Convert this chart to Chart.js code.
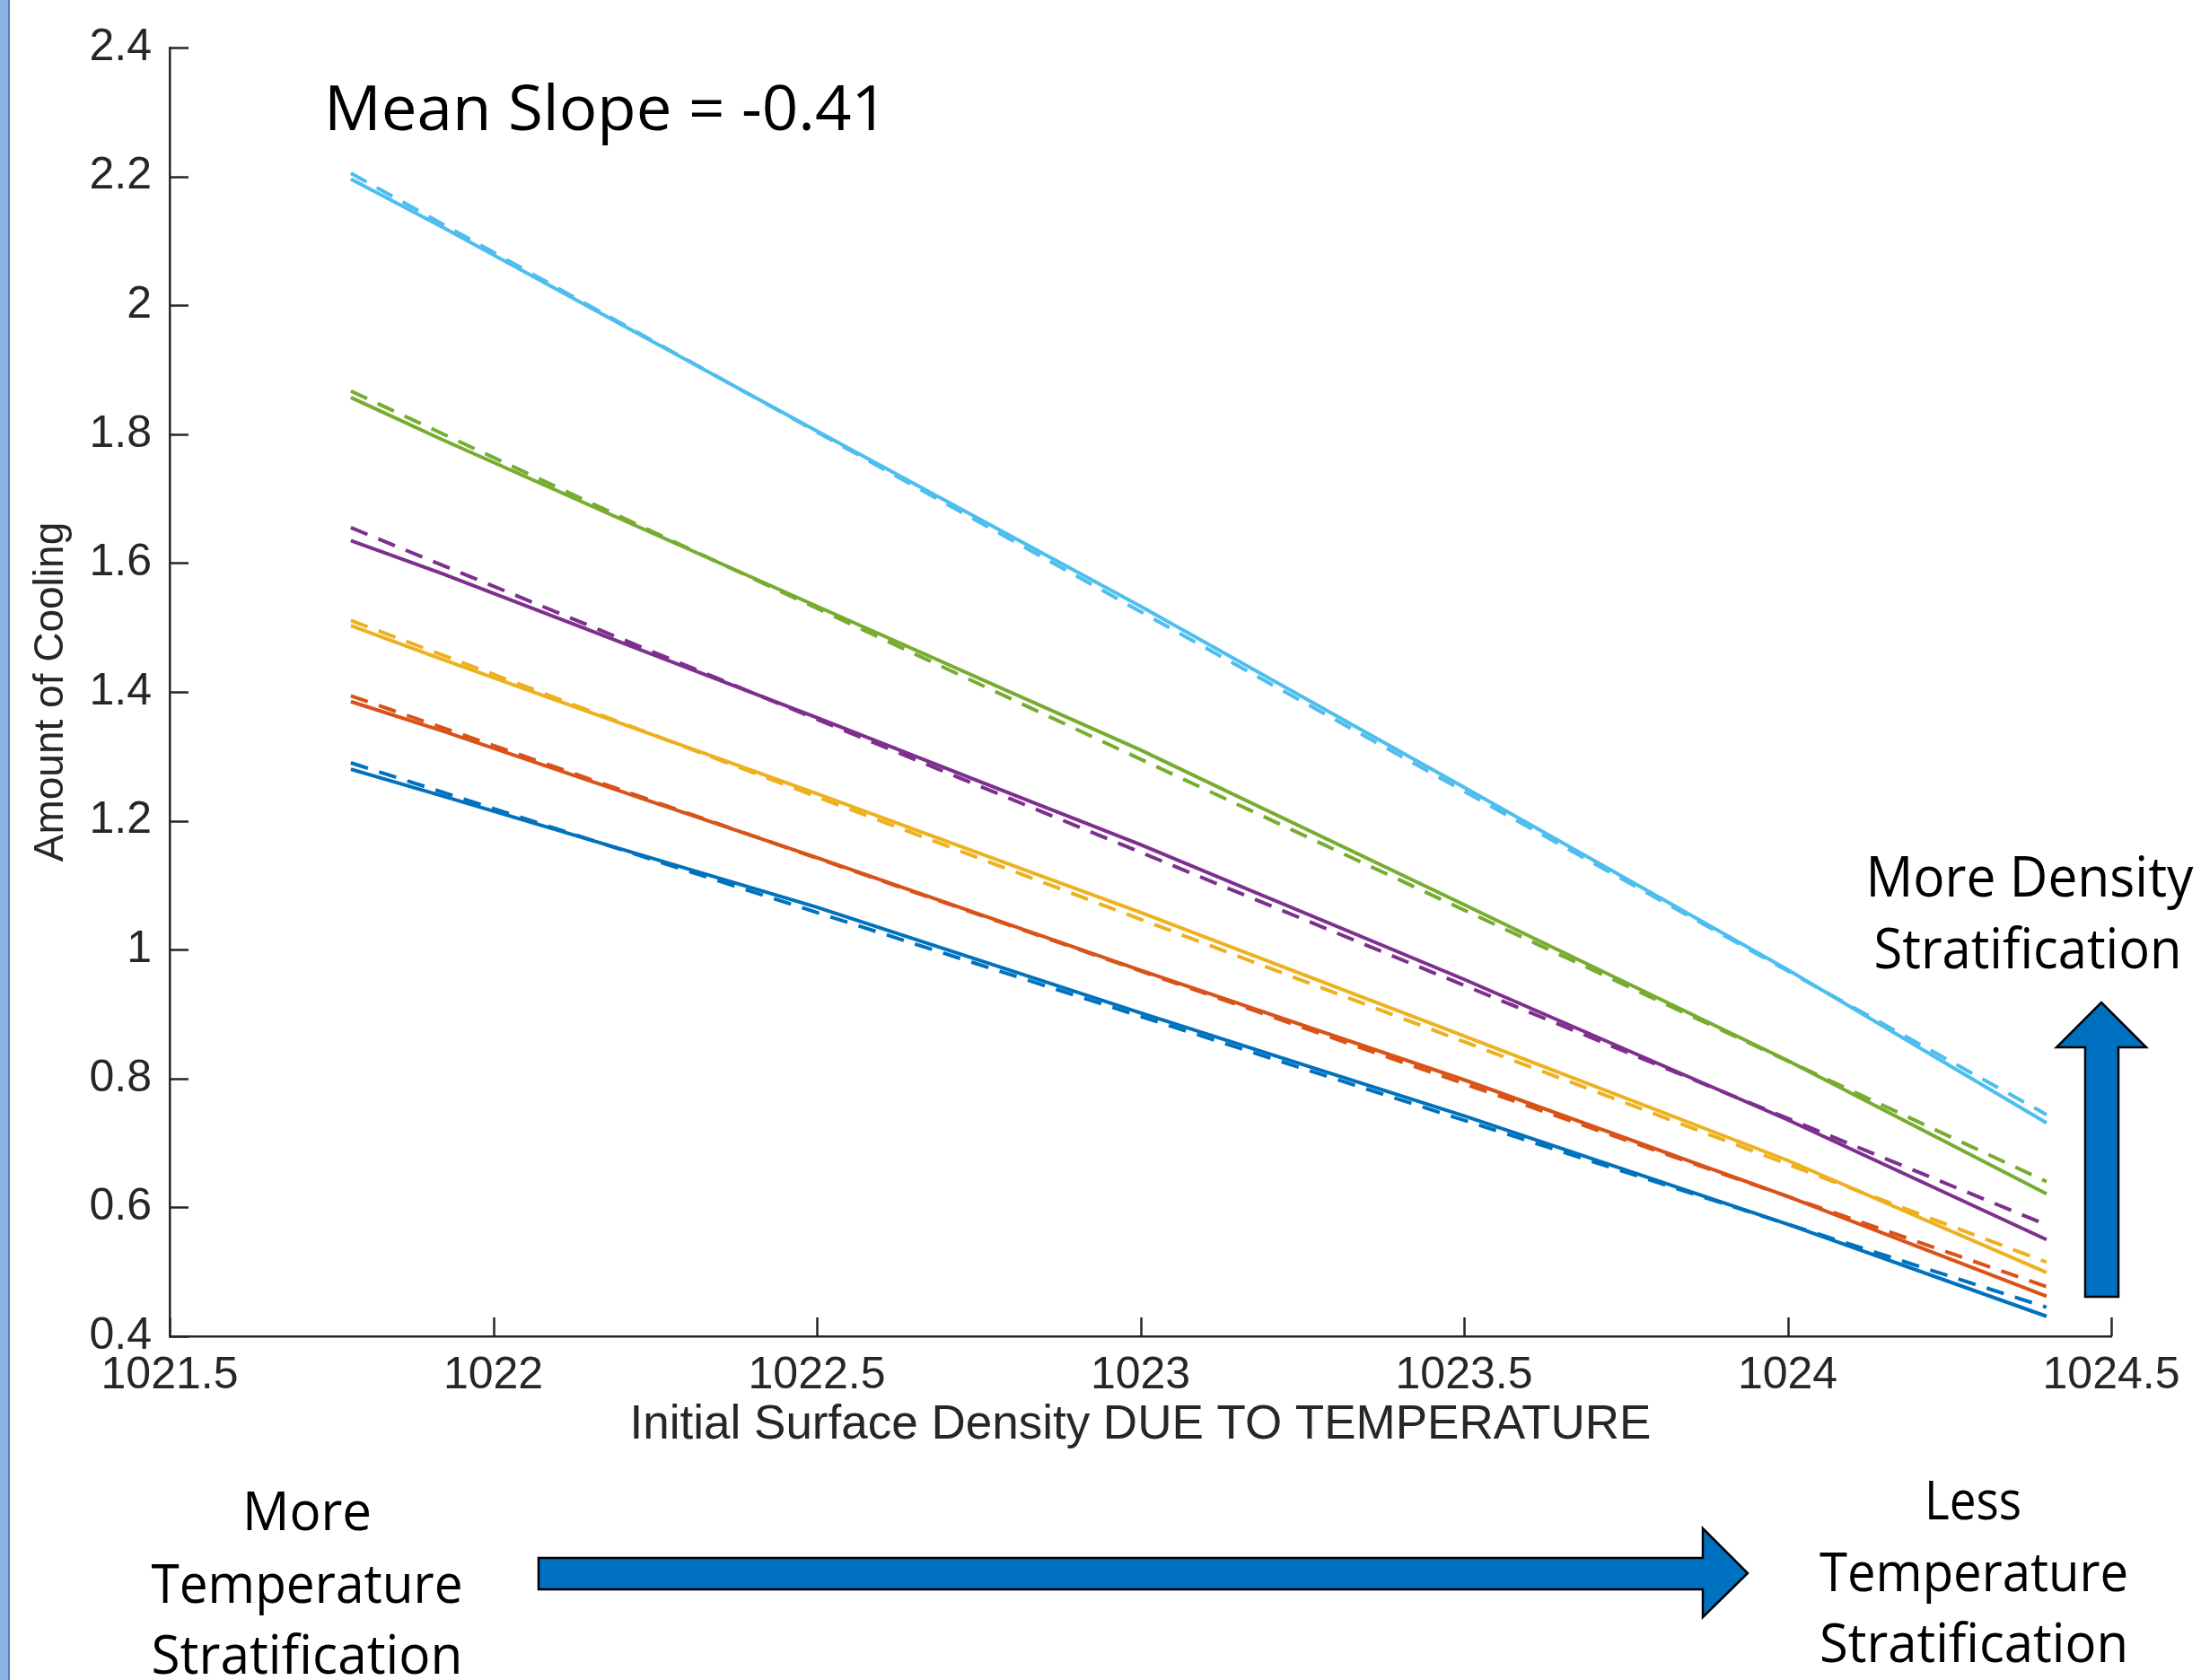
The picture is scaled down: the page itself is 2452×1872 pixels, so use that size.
<!DOCTYPE html>
<html>
<head>
<meta charset="utf-8">
<script src="https://cdn.jsdelivr.net/npm/chart.js@4.4.0/dist/chart.umd.min.js"></script>
<style>
html,body{margin:0;padding:0;background:#fff;overflow:hidden}
#wrap{position:absolute;left:0;top:0;width:2452px;height:1872px}
</style>
</head>
<body>
<div id="wrap"><canvas id="c" width="2452" height="1872"></canvas></div>
<script>
// ---- data ----
const densityPoints = [1021.78, 1021.92, 1022.5, 1023, 1023.5, 1024, 1024.4];
const fitEnds = [1021.78, 1024.4];

const blueModel   = [1.280, 1.239, 1.066, 0.902, 0.742, 0.574, 0.431];
const orangeModel = [1.385, 1.340, 1.143, 0.968, 0.798, 0.617, 0.462];
const yellowModel = [1.503, 1.451, 1.242, 1.058, 0.866, 0.673, 0.499];
const purpleModel = [1.635, 1.584, 1.360, 1.163, 0.954, 0.736, 0.550];
const greenModel  = [1.857, 1.792, 1.533, 1.310, 1.070, 0.828, 0.621];
const cyanModel   = [2.196, 2.122, 1.805, 1.533, 1.252, 0.969, 0.731];

const blueFit   = [1.290, 0.445];
const orangeFit = [1.394, 0.477];
const yellowFit = [1.511, 0.515];
const purpleFit = [1.655, 0.573];
const greenFit  = [1.867, 0.640];
const cyanFit   = [2.205, 0.744];

const xTickValues = [1021.5, 1022, 1022.5, 1023, 1023.5, 1024, 1024.5];
const xTickLabels = ['1021.5', '1022', '1022.5', '1023', '1023.5', '1024', '1024.5'];
const yTickValues = [0.4, 0.6, 0.8, 1.0, 1.2, 1.4, 1.6, 1.8, 2.0, 2.2, 2.4];
const yTickLabels = ['0.4', '0.6', '0.8', '1', '1.2', '1.4', '1.6', '1.8', '2', '2.2', '2.4'];

const xTitle = 'Initial Surface Density DUE TO TEMPERATURE';
const yTitle = 'Amount of Cooling';
const slopeNote = 'Mean Slope = -0.41';

// ---- styling ----
const COLORS = {
  blue: '#0072BD', orange: '#D95319', yellow: '#EDB120',
  purple: '#7E2F8E', green: '#77AC30', cyan: '#4DBEEE'
};
const AXIS = '#262626';

function pts(xs, ys) { return xs.map((x, i) => ({x: x, y: ys[i]})); }
function solid(ys, color) {
  return { data: pts(densityPoints, ys), borderColor: color, borderWidth: 4,
           pointRadius: 0, tension: 0, fill: false };
}
function dashed(ys, color) {
  return { data: pts(fitEnds, ys), borderColor: color, borderWidth: 4,
           borderDash: [20, 13], pointRadius: 0, tension: 0, fill: false };
}

const datasets = [
  solid(blueModel, COLORS.blue), solid(orangeModel, COLORS.orange),
  solid(yellowModel, COLORS.yellow), solid(purpleModel, COLORS.purple),
  solid(greenModel, COLORS.green), solid(cyanModel, COLORS.cyan),
  dashed(blueFit, COLORS.blue), dashed(orangeFit, COLORS.orange),
  dashed(yellowFit, COLORS.yellow), dashed(purpleFit, COLORS.purple),
  dashed(greenFit, COLORS.green), dashed(cyanFit, COLORS.cyan)
];

function fittedText(ctx, text, cx, baseline, targetW, size) {
  ctx.save();
  ctx.font = size + 'px "Open Sans"';
  const w = ctx.measureText(text).width;
  const s = targetW / w;
  ctx.translate(cx, baseline);
  ctx.scale(s, 1);
  ctx.textAlign = 'center';
  ctx.textBaseline = 'alphabetic';
  ctx.fillStyle = '#000';
  ctx.fillText(text, 0, 0);
  ctx.restore();
}

function poly(ctx, p) {
  ctx.save();
  ctx.beginPath();
  ctx.moveTo(p[0][0], p[0][1]);
  for (let i = 1; i < p.length; i++) ctx.lineTo(p[i][0], p[i][1]);
  ctx.closePath();
  ctx.fillStyle = '#0070C0';
  ctx.fill();
  ctx.lineWidth = 2.5;
  ctx.strokeStyle = '#000';
  ctx.lineJoin = 'miter';
  ctx.stroke();
  ctx.restore();
}

const decor = {
  id: 'decor',
  beforeDraw(chart) {
    const ctx = chart.ctx;
    ctx.save();
    ctx.fillStyle = '#fff';
    ctx.fillRect(0, 0, chart.width, chart.height);
    ctx.restore();
  },
  afterDraw(chart) {
    const ctx = chart.ctx;
    const xs = chart.scales.x, ys = chart.scales.y;
    const area = chart.chartArea;
    // inward tick marks
    ctx.save();
    ctx.strokeStyle = AXIS;
    ctx.lineWidth = 2.5;
    ctx.beginPath();
    yTickValues.forEach(v => {
      const py = Math.round(ys.getPixelForValue(v)) + 0.5;
      ctx.moveTo(area.left, py); ctx.lineTo(area.left + 21, py);
    });
    xTickValues.forEach(v => {
      const px = Math.round(xs.getPixelForValue(v)) + 0.5;
      ctx.moveTo(px, area.bottom); ctx.lineTo(px, area.bottom - 21);
    });
    ctx.stroke();
    ctx.restore();

    // left slide edge stripe
    ctx.save();
    ctx.fillStyle = '#8DB3E2';
    ctx.fillRect(0, 0, 9, chart.height);
    ctx.fillStyle = '#4F7FBF';
    ctx.fillRect(9, 0, 2, chart.height);
    ctx.restore();

    // annotations
    fittedText(ctx, slopeNote, 675, 145, 628, 70);
    fittedText(ctx, 'More Density', 2261, 999, 365, 63);
    fittedText(ctx, 'Stratification', 2259, 1079, 343, 63);
    fittedText(ctx, 'More', 342, 1705, 144, 60);
    fittedText(ctx, 'Temperature', 342, 1786, 347, 60);
    fittedText(ctx, 'Stratification', 342, 1865, 347, 60);
    fittedText(ctx, 'Less', 2198, 1693, 108, 60);
    fittedText(ctx, 'Temperature', 2199, 1773, 344, 60);
    fittedText(ctx, 'Stratification', 2199, 1852, 344, 60);

    // arrows
    poly(ctx, [[2323,1445],[2323,1167],[2291,1167],[2341,1117],[2391,1167],[2360,1167],[2360,1445]]);
    poly(ctx, [[600,1736],[1897,1736],[1897,1703],[1947,1753],[1897,1802],[1897,1771],[600,1771]]);
  }
};

new Chart(document.getElementById('c'), {
  type: 'line',
  data: { datasets: datasets },
  options: {
    responsive: false,
    devicePixelRatio: 1,
    animation: false,
    events: [],
    layout: { padding: { top: 53, right: 100, left: 0, bottom: 0 } },
    plugins: { legend: { display: false }, tooltip: { enabled: false }, title: { display: false } },
    scales: {
      x: {
        type: 'linear', min: 1021.5, max: 1024.5,
        afterFit(s) { s.height = 383; },
        afterBuildTicks(s) { s.ticks = xTickValues.map(v => ({value: v})); },
        grid: { display: true, drawOnChartArea: false, drawTicks: false },
        border: { display: true, color: AXIS, width: 2.5 },
        ticks: {
          autoSkip: false, maxRotation: 0, padding: 14, color: AXIS,
          font: { family: '"Liberation Sans", Arial, sans-serif', size: 50 },
          callback: (v, i) => xTickLabels[i]
        },
        title: {
          display: true, text: xTitle, color: AXIS,
          font: { family: '"Liberation Sans", Arial, sans-serif', size: 53 },
          padding: { top: 0, bottom: 252 }
        }
      },
      y: {
        type: 'linear', min: 0.4, max: 2.4,
        afterFit(s) { s.width = 189; },
        afterBuildTicks(s) { s.ticks = yTickValues.map(v => ({value: v})); },
        grid: { display: true, drawOnChartArea: false, drawTicks: false },
        border: { display: true, color: AXIS, width: 2.5 },
        ticks: {
          autoSkip: false, padding: 20, color: AXIS,
          font: { family: '"Liberation Sans", Arial, sans-serif', size: 50 },
          callback: (v, i) => yTickLabels[i]
        },
        title: {
          display: true, text: yTitle, color: AXIS,
          font: { family: '"Liberation Sans", Arial, sans-serif', size: 46 },
          padding: { top: 30, bottom: 0 }
        }
      }
    }
  },
  plugins: [decor]
});
</script>
</body>
</html>
